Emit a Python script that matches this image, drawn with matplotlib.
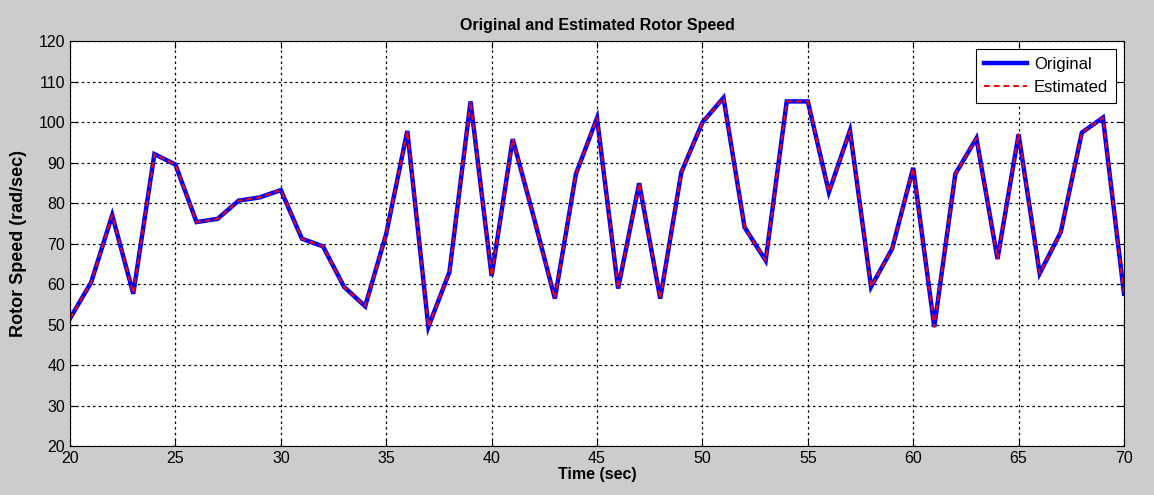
import matplotlib
matplotlib.use("Agg")
import matplotlib.pyplot as plt
from matplotlib import font_manager

time_sec = list(range(20, 71))
original = [51.5, 60.4, 77, 57.6, 92.1, 89.5, 75.3, 76.1, 80.6, 81.4,
            83.2, 71.2, 69.3, 59.3, 54.5, 72.4, 97.8, 49.4, 63, 105.1,
            62, 95.8, 76.5, 56.4, 87.2, 101, 58.9, 84.9, 56.4, 87.6,
            99.9, 106, 74, 65.8, 105.1, 105.1, 82.7, 97.9, 59.3, 68.7,
            88.7, 49.4, 87.2, 96, 66.2, 97, 62.6, 72.8, 97.4, 101.1,
            57.6]
estimated = list(original)

xticks = list(range(20, 71, 5))
yticks = list(range(20, 121, 10))

names = {f.name for f in font_manager.fontManager.ttflist}
narrow = "Liberation Sans Narrow" if "Liberation Sans Narrow" in names else "Liberation Sans"

fig = plt.figure(figsize=(11.54, 4.95), dpi=100, facecolor="#cccccc")
ax = fig.add_axes([0.0607, 0.099, 0.9133, 0.818])
ax.set_facecolor("white")

ax.plot(time_sec, original, color="#0000ff", lw=3.2, label="Original", solid_joinstyle="miter")
ax.plot(time_sec, estimated, color="#ff0000", lw=1.4, ls=(0, (3, 2)), label="Estimated")

ax.set_xlim(20, 70)
ax.set_ylim(20, 120)
ax.set_xticks(xticks)
ax.set_yticks(yticks)
ax.grid(True, color="black", ls=(0, (2, 2.5)), lw=0.9)
ax.tick_params(direction="in", top=True, right=True, length=5, width=0.8, labelsize=11.5)
for lab in ax.get_xticklabels() + ax.get_yticklabels():
    lab.set_fontfamily(narrow)
for s in ax.spines.values():
    s.set_linewidth(0.8)

ax.set_title("Original and Estimated Rotor Speed", fontfamily=narrow, fontweight="bold", fontsize=11.5, pad=8)
ax.set_xlabel("Time (sec)", fontfamily=narrow, fontweight="bold", fontsize=11.5, labelpad=1)
ax.set_ylabel("Rotor Speed (rad/sec)", fontfamily="Liberation Sans", fontweight="bold", fontsize=13, labelpad=8)

leg = ax.legend(loc="upper right", prop={"family": narrow, "size": 12}, fancybox=False,
                framealpha=1, edgecolor="black", handlelength=2.6, borderpad=0.45,
                labelspacing=0.5, handletextpad=0.4, borderaxespad=0.5)
leg.get_frame().set_linewidth(0.8)

fig.savefig("out.png", dpi=100, facecolor=fig.get_facecolor())
